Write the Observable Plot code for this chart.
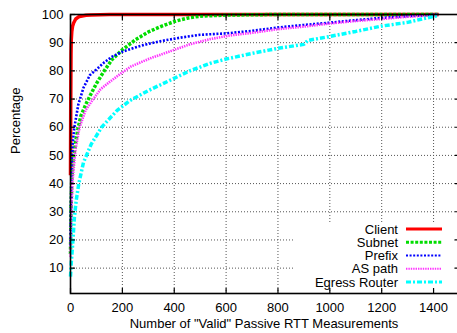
<!DOCTYPE html>
<html><head><meta charset="utf-8">
<script src="https://cdn.jsdelivr.net/npm/d3@7"></script>
<script src="https://cdn.jsdelivr.net/npm/@observablehq/plot@0.6"></script>
<style>body{margin:0;background:#fff} svg{display:block}</style>
</head><body><div id="chart"></div>
<script>
const seriesNames = ["Client", "Subnet", "Prefix", "AS path", "Egress Router"];
const client = [[0,43],[1,70],[2,86],[3,91],[5,94],[8,95.8],[12,97],[20,98.4],[30,99.1],[40,99.4],[60,99.7],[80,99.85],[150,100],[1420,100]];
const subnet = [[0,15],[2,30],[5,42],[10,48],[20,55],[30,60],[40,64],[60,68.3],[80,72],[100,75.5],[130,80],[160,84],[200,87.5],[250,91],[300,93.8],[350,95.8],[400,97.5],[450,98.7],[500,99.4],[600,99.8],[800,100],[1420,100]];
const prefix = [[0,18],[2,35],[4,46],[8,54],[15,60],[30,68],[50,74],[75,78.5],[100,80.5],[130,83],[160,85],[200,86.8],[250,88.3],[300,89.6],[350,90.6],[425,91.8],[500,92.8],[600,93.3],[700,94.2],[800,95.4],[900,96.3],[1000,97.1],[1100,98],[1200,98.8],[1300,99.4],[1420,100]];
const asPath = [[0,14],[3,30],[8,41],[19,52],[35,60],[58,66],[80,69],[116,73.5],[150,76],[193,79],[232,81.5],[270,83],[309,84.5],[386,87],[463,89.5],[540,91.3],[618,92.6],[700,93.5],[800,94.8],[900,95.7],[1000,96.8],[1100,97.7],[1200,98.4],[1300,99.2],[1420,99.9]];
const egress = [[0,7],[3,12],[8,18],[15,28],[22,34],[32,40],[50,47.5],[80,54],[120,60],[150,63],[180,66],[230,69.5],[300,73],[380,76.5],[460,80],[540,82.7],[600,84.2],[700,86.2],[800,88],[900,89.4],[915,90.8],[1000,92.2],[1100,94],[1200,95.9],[1300,97.2],[1360,98.5],[1420,99.7]];
const xTicks = [0, 200, 400, 600, 800, 1000, 1200, 1400];
const yTicks = [10, 20, 30, 40, 50, 60, 70, 80, 90, 100];
const xLabel = 'Number of "Valid" Passive RTT Measurements';
const yLabel = "Percentage";

const seriesColors = ["#ff0000", "#00dd00", "#0000ff", "#ff33ff", "#00ffff"];
const seriesWidths = [3.5, 3.5, 2.6, 2.6, 3.5];
const seriesDash = [null, "3,1.6", "2,1.6", "1.4,1", "5,2,2,2"];

const allSeries = [client, subnet, prefix, asPath, egress];
const rows = [];
allSeries.forEach((arr, i) => arr.forEach(([x, y]) => rows.push({series: seriesNames[i], x, y})));

const gridStyle = {stroke: "#555", strokeOpacity: 1, strokeDasharray: "1,2", strokeWidth: 1};
const noText = () => "";

const chart = Plot.plot({
  width: 457,
  height: 333,
  marginLeft: 70,
  marginRight: -2,
  marginTop: 14,
  marginBottom: 40,
  style: {fontFamily: "'Liberation Sans', Arial, sans-serif", fontSize: "13px", color: "#000", background: "#fff"},
  x: {domain: [0, 1500], label: null},
  y: {domain: [1, 100], label: null},
  marks: [
    Plot.gridX(xTicks.filter(d => d > 0), gridStyle),
    Plot.gridY(yTicks.filter(d => d < 100), gridStyle),
    ...seriesNames.map((name, i) => Plot.line(rows.filter(r => r.series === name), {
      x: "x", y: "y",
      stroke: seriesColors[i], strokeWidth: seriesWidths[i],
      strokeDasharray: seriesDash[i] || undefined,
      strokeLinejoin: "miter", strokeLinecap: "butt"
    })),
    Plot.axisX({ticks: xTicks, anchor: "bottom", tickSize: 0, tickPadding: 9, tickFormat: d3.format("d"), label: null}),
    Plot.axisY({ticks: yTicks, anchor: "left", tickSize: 0, tickPadding: 7, tickFormat: d3.format("d"), label: null}),
    Plot.axisX({ticks: xTicks, anchor: "bottom", tickSize: -5, tickFormat: noText, label: null, strokeWidth: 1.2}),
    Plot.axisX({ticks: xTicks, anchor: "top", tickSize: -5, tickFormat: noText, label: null, strokeWidth: 1.2}),
    Plot.axisY({ticks: yTicks, anchor: "left", tickSize: -5, tickFormat: noText, label: null, strokeWidth: 1.2}),
    Plot.axisY({ticks: yTicks, anchor: "right", tickSize: -5, tickFormat: noText, label: null, strokeWidth: 1.2}),
    Plot.frame({stroke: "#000", strokeWidth: 1.6}),
    Plot.text([xLabel], {frameAnchor: "bottom", text: d => d, dy: 34, dx: -1}),
    Plot.text([yLabel], {frameAnchor: "left", text: d => d, rotate: -90, dx: -55})
  ]
});
document.getElementById("chart").appendChild(chart);

// Legend (gnuplot-style key, inside bottom-right of the plot area)
const svg = d3.select(chart);
const right = 459, bottom = 293;
const key = svg.append("g").attr("font-family", "'Liberation Sans', Arial, sans-serif").attr("font-size", "13px");
key.append("rect").attr("x", right - 166).attr("y", bottom - 71).attr("width", 159).attr("height", 66).attr("fill", "#fff");
seriesNames.forEach((name, i) => {
  const cy = bottom - 64 + i * 13.25;
  key.append("text").attr("x", right - 61).attr("y", cy).attr("dy", "0.35em").attr("text-anchor", "end").attr("fill", "#000").text(name);
  key.append("line").attr("x1", right - 53).attr("x2", right - 17).attr("y1", cy).attr("y2", cy)
    .attr("stroke", seriesColors[i]).attr("stroke-width", seriesWidths[i] - 0.5)
    .attr("stroke-dasharray", seriesDash[i]);
});
</script>
</body></html>
